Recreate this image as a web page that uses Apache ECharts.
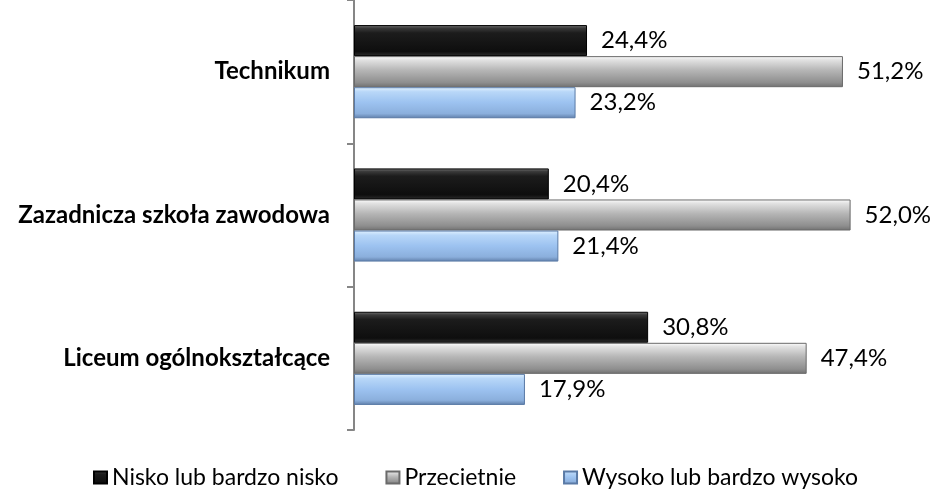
<!DOCTYPE html>
<html>
<head>
<meta charset="utf-8">
<script src="https://cdn.jsdelivr.net/npm/echarts@6/dist/echarts.min.js"></script>
<style>
  html, body { margin: 0; padding: 0; background: #fff; }
  #chart { width: 932px; height: 490px; }
</style>
</head>
<body>
<div id="chart"></div>
<script>
const categories = ['Technikum', 'Zazadnicza szkoła zawodowa', 'Liceum ogólnokształcące'];
const seriesNames = ['Nisko lub bardzo nisko', 'Przecietnie', 'Wysoko lub bardzo wysoko'];
const nisko = [24.4, 20.4, 30.8];
const przecietnie = [51.2, 52.0, 47.4];
const wysoko = [23.2, 21.4, 17.9];

function grad(stops) {
  return {
    type: 'linear', x: 0, y: 0, x2: 0, y2: 1,
    colorStops: stops.map(function (s) {
      return { offset: s[0], color: s[1] };
    })
  };
}

const fills = [
  grad([[0, '#777777'], [0.1, '#3a3a3a'], [0.25, '#1c1c1c'], [0.85, '#0e0e0e'], [1, '#2e2e2e']]),
  grad([[0, '#ffffff'], [0.12, '#e2e2e2'], [0.45, '#b6b6b6'], [0.85, '#8e8e8e'], [1, '#707070']]),
  grad([[0, '#e2f2ff'], [0.15, '#b8d7f8'], [0.5, '#9cc2f0'], [0.85, '#8bafdc'], [1, '#5f7ea9']])
];
const borders = ['#000000', '#6a6a6a', '#5a7aa6'];

function pct(p) {
  return p.value.toFixed(1).replace('.', ',') + '%';
}

const seriesData = [nisko, przecietnie, wysoko].map(function (vals, i) {
  return {
    name: seriesNames[i],
    type: 'bar',
    data: vals,
    barGap: '0%',
    barCategoryGap: '35%',
    itemStyle: { color: fills[i], borderColor: borders[i], borderWidth: 1 },
    label: {
      show: true,
      position: 'right',
      distance: 14,
      formatter: pct,
      color: '#000',
      fontFamily: 'Lato',
      fontSize: 24
    }
  };
});

const chart = echarts.init(document.getElementById('chart'));

chart.setOption({
  animation: false,
  grid: { left: 354, right: 5, top: -13, bottom: 60 },
  legend: {
    data: seriesNames,
    icon: 'rect',
    left: 88,
    top: 461,
    itemWidth: 13,
    itemHeight: 12,
    itemGap: 47,
    textStyle: { fontFamily: 'Lato', fontSize: 23, color: '#000' }
  },
  xAxis: {
    type: 'value',
    min: 0,
    max: 60,
    show: false
  },
  yAxis: {
    type: 'category',
    inverse: true,
    data: categories,
    axisLine: { show: true, lineStyle: { color: '#868686', width: 2 } },
    axisTick: { show: true, interval: 0, length: 7, lineStyle: { color: '#868686', width: 2 } },
    axisLabel: {
      margin: 24,
      color: '#000',
      fontFamily: 'Lato',
      fontWeight: 'bold',
      fontSize: 24
    }
  },
  series: seriesData
});
</script>
</body>
</html>
